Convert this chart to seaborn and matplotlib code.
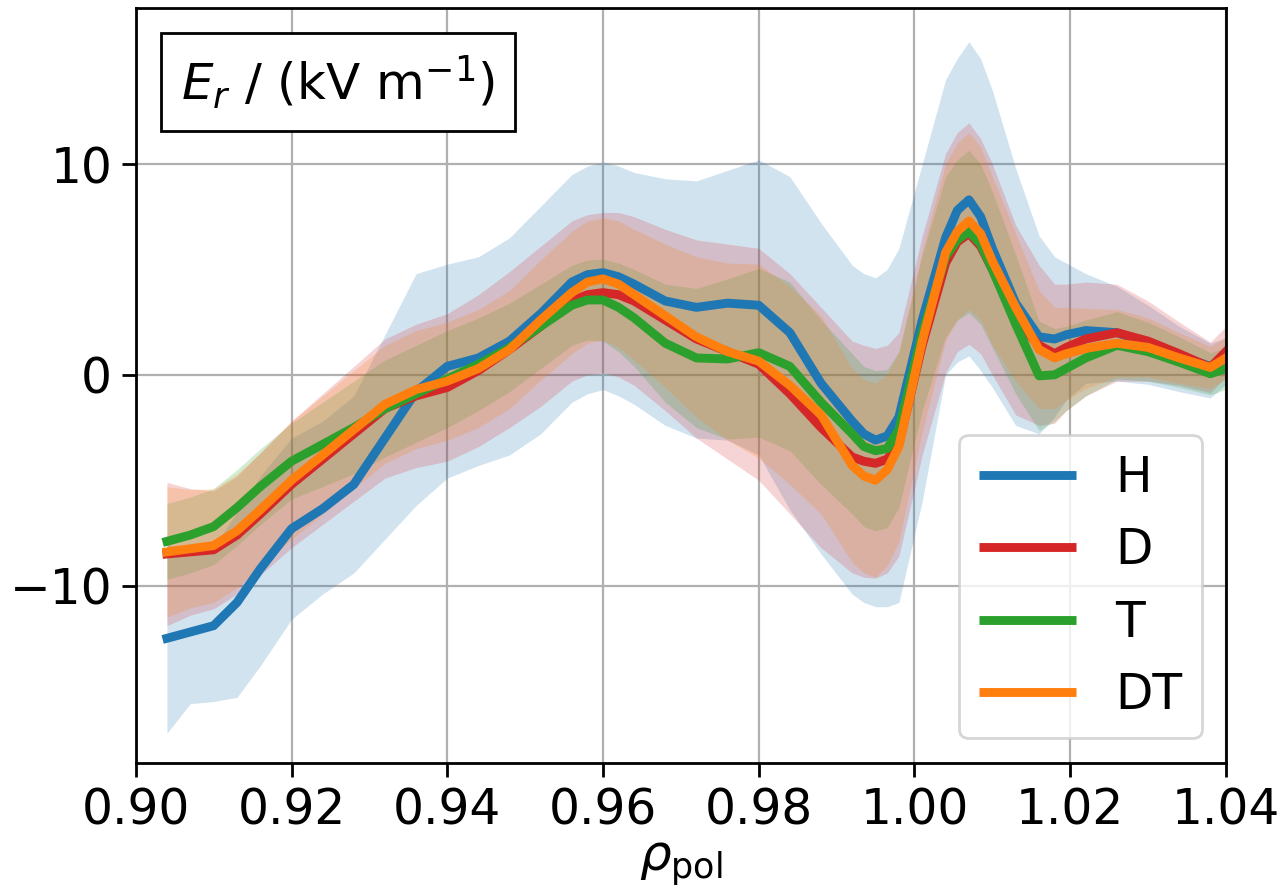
import numpy as np
import pandas as pd
import matplotlib
matplotlib.use("Agg")
import matplotlib.pyplot as plt
import seaborn as sns
from matplotlib.offsetbox import AnchoredText

# ---------------- data ----------------
rho = [0.904, 0.907, 0.910, 0.913, 0.916, 0.920, 0.924, 0.928, 0.932, 0.936,
       0.940, 0.944, 0.948, 0.952, 0.956, 0.958, 0.960, 0.962, 0.964, 0.968,
       0.972, 0.976, 0.980, 0.984, 0.988, 0.992, 0.9935, 0.995, 0.9965, 0.998,
       1.001, 1.004, 1.0055, 1.007, 1.0085, 1.010, 1.013, 1.016, 1.018, 1.0195,
       1.022, 1.026, 1.030, 1.034, 1.038, 1.040]

H_mean = [-12.5, -12.2, -11.9, -10.8, -9.2, -7.3, -6.35, -5.2, -3.0, -0.8,
          0.4, 0.8, 1.6, 2.9, 4.4, 4.75, 4.85, 4.65, 4.3, 3.5,
          3.2, 3.4, 3.3, 2.0, -0.4, -2.2, -2.8, -3.1, -2.9, -2.0,
          2.6, 6.5, 7.8, 8.3, 7.5, 6.0, 3.4, 1.8, 1.7, 1.9,
          2.1, 2.0, 1.5, 0.9, 0.4, 0.8]
H_upper = [-8.0, -8.6, -8.2, -6.5, -4.8, -3.0, -2.2, -1.0, 1.9, 4.8,
           5.25, 5.6, 6.5, 8.0, 9.5, 9.9, 10.1, 9.9, 9.6, 9.3,
           9.2, 9.7, 10.2, 9.4, 7.2, 5.2, 4.8, 4.6, 5.0, 6.0,
           10.0, 14.0, 15.0, 15.8, 15.0, 13.5, 9.8, 6.6, 5.6, 5.3,
           4.8, 4.2, 3.3, 2.3, 1.5, 1.75]
H_lower = [-17.0, -15.6, -15.5, -15.3, -13.8, -11.6, -10.4, -9.4, -7.8, -6.2,
           -4.9, -4.3, -3.8, -2.8, -1.3, -0.9, -0.7, -1.0, -1.4, -2.4,
           -3.0, -3.1, -3.8, -6.4, -8.5, -10.4, -10.8, -11.0, -11.0, -10.8,
           -6.0, 0.0, 0.6, 0.9, 0.2, -0.6, -2.4, -2.8, -2.0, -1.2,
           -0.4, -0.3, -0.45, -0.8, -1.1, -0.45]

D_mean = [-8.5, -8.4, -8.3, -7.6, -6.6, -5.2, -4.0, -2.8, -1.6, -1.0,
          -0.6, 0.2, 1.2, 2.3, 3.5, 3.8, 3.9, 3.8, 3.5, 2.6,
          1.7, 1.1, 0.5, -0.9, -2.5, -3.9, -4.1, -4.2, -4.0, -3.3,
          1.4, 5.3, 6.3, 6.7, 6.1, 5.0, 2.6, 1.4, 1.0, 1.3,
          1.7, 2.0, 1.6, 1.0, 0.35, 1.1]
D_std = [3.4, 3.0, 2.8, 2.8, 2.9, 3.0, 3.1, 3.2, 3.3, 3.4,
         3.5, 3.6, 3.7, 3.8, 3.8, 3.8, 3.8, 3.9, 4.0, 4.3,
         4.7, 5.1, 5.5, 5.7, 5.7, 5.5, 5.5, 5.45, 5.4, 5.3,
         5.2, 5.2, 5.2, 5.25, 5.1, 5.0, 4.5, 3.8, 3.3, 3.0,
         2.7, 2.3, 1.9, 1.5, 1.2, 1.2]

T_mean = [-7.9, -7.6, -7.2, -6.3, -5.3, -4.1, -3.3, -2.5, -1.6, -0.9,
          -0.2, 0.5, 1.3, 2.3, 3.3, 3.55, 3.55, 3.2, 2.7, 1.5,
          0.8, 0.75, 1.05, 0.4, -1.3, -2.8, -3.4, -3.6, -3.5, -2.6,
          2.0, 5.6, 6.4, 6.8, 6.2, 5.0, 2.4, -0.05, 0.0, 0.3,
          0.8, 1.4, 1.1, 0.6, 0.05, 0.3]
T_std = [1.8, 1.8, 1.8, 1.8, 1.8, 1.8, 2.0, 2.2, 2.3, 2.3,
         2.3, 2.2, 2.1, 2.0, 1.9, 1.9, 1.95, 2.1, 2.3, 2.8,
         3.3, 3.8, 4.0, 4.0, 3.9, 3.8, 3.8, 3.8, 3.75, 3.7,
         3.7, 3.8, 3.8, 3.85, 3.8, 3.7, 3.3, 2.6, 2.2, 2.0,
         1.8, 1.6, 1.4, 1.2, 1.0, 1.0]

DT_mean = [-8.4, -8.25, -8.1, -7.4, -6.4, -5.0, -3.8, -2.6, -1.4, -0.7,
           -0.3, 0.3, 1.2, 2.6, 3.9, 4.4, 4.55, 4.3, 3.8, 2.8,
           1.8, 1.1, 0.65, -0.5, -1.9, -4.3, -4.8, -5.0, -4.5, -3.4,
           1.6, 5.8, 6.8, 7.3, 6.7, 5.4, 3.2, 1.2, 0.8, 1.0,
           1.25, 1.5, 1.3, 0.8, 0.35, 0.8]
DT_std = [3.1, 2.8, 2.7, 2.7, 2.7, 2.8, 2.8, 2.8, 2.8, 2.8,
          2.8, 2.8, 2.8, 2.85, 2.9, 2.9, 2.9, 3.0, 3.1, 3.4,
          3.8, 4.2, 4.6, 4.7, 4.7, 4.6, 4.6, 4.6, 4.55, 4.5,
          4.3, 4.2, 4.2, 4.2, 4.1, 4.0, 3.5, 2.8, 2.4, 2.2,
          1.9, 1.6, 1.4, 1.2, 1.0, 1.0]

labels = ["H", "D", "T", "DT"]
colors = ["#1f77b4", "#d62728", "#2ca02c", "#ff7f0e"]

# ---------------- figure ----------------
sns.set_theme(style="ticks")
plt.rcParams["font.family"] = ["DejaVu Sans"]
plt.rcParams["mathtext.fontset"] = "dejavusans"
plt.rcParams.update({
    "text.color": "black", "axes.labelcolor": "black",
    "xtick.color": "black", "ytick.color": "black",
    "axes.edgecolor": "black",
    "lines.solid_capstyle": "projecting",
    "lines.solid_joinstyle": "round",
})

fig = plt.figure(figsize=(6.405, 4.455), dpi=200)
ax = fig.add_axes([0.106, 0.144, 0.851, 0.847])

rho_a = np.array(rho)
bands = [
    (np.array(H_lower), np.array(H_upper)),
    (np.array(D_mean) - np.array(D_std), np.array(D_mean) + np.array(D_std)),
    (np.array(T_mean) - np.array(T_std), np.array(T_mean) + np.array(T_std)),
    (np.array(DT_mean) - np.array(DT_std), np.array(DT_mean) + np.array(DT_std)),
]
means = [H_mean, D_mean, T_mean, DT_mean]

for (lo, hi), c in zip(bands, colors):
    ax.fill_between(rho_a, lo, hi, color=c, alpha=0.2, linewidth=0)

frames = []
for lab, m in zip(labels, means):
    frames.append(pd.DataFrame({"rho": rho, "Er": m, "species": lab}))
df = pd.concat(frames, ignore_index=True)

LW = 3.2
sns.lineplot(data=df, x="rho", y="Er", hue="species", hue_order=labels,
             palette=colors, linewidth=LW, ax=ax, legend=False,
             errorbar=None, sort=False)
for ln in ax.get_lines():
    ln.set_solid_capstyle("projecting")
    ln.set_solid_joinstyle("round")

handles = [plt.Line2D([], [], color=c, linewidth=LW, solid_capstyle="butt")
           for c in colors]
leg = ax.legend(handles, labels, loc="lower right", fontsize=17.5)
leg.get_frame().set_edgecolor("#cccccc")

ax.set_xlim(0.90, 1.04)
ax.set_ylim(-18.4, 17.4)
ax.set_xticks([0.90, 0.92, 0.94, 0.96, 0.98, 1.00, 1.02, 1.04])
ax.set_yticks([-10, 0, 10])
ax.tick_params(labelsize=17.5, length=5, width=1, direction="out")
ax.grid(True, color="#b0b0b0", linewidth=0.8)
for s in ax.spines.values():
    s.set_color("black")
    s.set_linewidth(1.0)

ax.set_xlabel(r"$\rho_{\mathrm{pol}}$", fontsize=18, labelpad=2)
ax.set_ylabel("")

at = AnchoredText(r"$E_r$ / (kV m$^{-1}$)", loc="upper left",
                  prop=dict(size=18), frameon=True)
at.patch.set_boxstyle("square,pad=0.")
at.patch.set_edgecolor("black")
at.patch.set_linewidth(1.0)
ax.add_artist(at)

fig.savefig("out.png", dpi=200)
